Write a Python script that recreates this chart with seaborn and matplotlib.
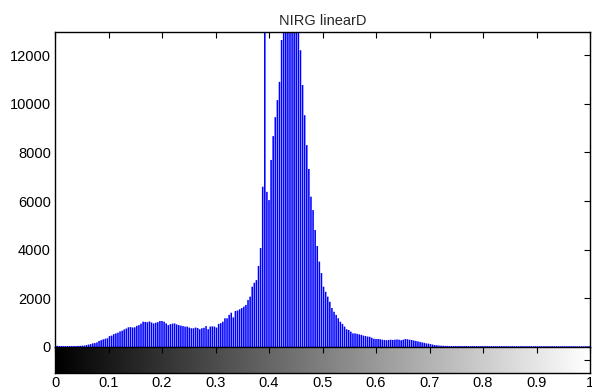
import numpy as np
import pandas as pd
import matplotlib
matplotlib.use("Agg")
import matplotlib.pyplot as plt
import seaborn as sn

# histogram counts, 256 bins over [0, 1]
counts = [
    45, 50, 40, 42, 38, 40, 36, 40, 38, 42, 40, 45, 48, 55, 60, 80,
    100, 120, 150, 160, 190, 250, 280, 315, 340, 360, 450, 470, 530, 560, 590, 640,
    670, 720, 760, 810, 820, 800, 810, 870, 900, 960, 1040, 1030, 1020, 1050, 1010, 970,
    1000, 1020, 1070, 1070, 1040, 970, 900, 940, 960, 970, 930, 900, 880, 860, 840, 840,
    800, 770, 770, 800, 780, 730, 770, 790, 860, 730, 840, 850, 840, 800, 950, 980,
    1040, 1180, 1180, 1320, 1410, 1220, 1480, 1500, 1550, 1600, 1660, 1730, 1930, 2070, 2480, 2640,
    2750, 3330, 4070, 6590, 21000, 6380, 6040, 7690, 8670, 9450, 10150, 10900, 12620, 14200, 16500, 18400,
    19600, 19200, 17600, 15800, 13700, 12200, 10770, 9530, 8300, 7320, 6180, 5630, 4810, 4150, 3510, 3040,
    2480, 2270, 2070, 1860, 1600, 1450, 1320, 1180, 1040, 950, 840, 730, 700, 630, 560, 560,
    540, 520, 500, 470, 450, 430, 420, 380, 340, 330, 330, 320, 300, 290, 280, 290,
    300, 290, 300, 310, 300, 280, 300, 330, 320, 300, 290, 270, 250, 230, 210, 190,
    170, 150, 140, 120, 100, 80, 70, 60, 55, 50, 45, 45, 40, 42, 40, 38,
    40, 38, 36, 38, 40, 36, 35, 38, 36, 35, 34, 36, 35, 33, 35, 34,
    33, 35, 34, 32, 33, 34, 32, 33, 31, 32, 33, 31, 30, 32, 31, 30,
    31, 30, 32, 30, 29, 31, 30, 29, 30, 28, 30, 29, 28, 30, 29, 28,
    29, 28, 30, 28, 27, 29, 28, 27, 28, 26, 28, 27, 26, 28, 27, 30,
]
levels = np.arange(256) / 255
yticks = [0, 2000, 4000, 6000, 8000, 10000, 12000]
xticks = [0, 0.1, 0.2, 0.3, 0.4, 0.5, 0.6, 0.7, 0.8, 0.9, 1]
xticklabels = ["0", "0.1", "0.2", "0.3", "0.4", "0.5", "0.6", "0.7", "0.8", "0.9", "1"]
title = "NIRG linearD"

df = pd.DataFrame({"level": levels, "count": counts})

sn.set_style("white")
plt.rcParams["font.family"] = ["Liberation Sans", "DejaVu Sans"]

fig = plt.figure(figsize=(5.92, 3.92), dpi=100)
ax = fig.add_axes([55 / 592, 45 / 392, 535 / 592, 315 / 392])
cax = fig.add_axes([55 / 592, 19 / 392, 535 / 592, 26 / 392])

sn.barplot(data=df, x="level", y="count", native_scale=True, width=0.75,
           color="blue", saturation=1, edgecolor="none", linewidth=0,
           errorbar=None, snap=False, ax=ax)
ax.axhline(0, color="blue", lw=1)

ax.set_xlim(0, 1)
ax.set_ylim(0, 12950)
ax.set_yticks(yticks)
ax.set_xticks(xticks)
ax.set_xticklabels([])
ax.set_xlabel("")
ax.set_ylabel("")
ax.tick_params(direction="in", length=4, width=0.8, top=True, right=True,
               bottom=False, labelsize=10.5, pad=3, colors="black")
for s in ax.spines.values():
    s.set_color("black")
    s.set_linewidth(1)
ax.spines["bottom"].set_visible(False)
ax.set_title(title, fontsize=10.5, pad=5)

# gray ramp under the histogram
cax.imshow(levels[None, :], cmap="gray", aspect="auto", extent=[0, 1, 0, 1],
           vmin=0, vmax=1)
cax.set_xlim(0, 1)
cax.set_ylim(0, 1)
cax.set_xticks(xticks)
cax.set_xticklabels(xticklabels)
cax.set_yticks([0.5])
cax.set_yticklabels([])
cax.tick_params(direction="in", length=4, width=0.8, top=True, right=True,
                labelsize=10.5, pad=2, colors="black")
for s in cax.spines.values():
    s.set_color("black")
    s.set_linewidth(1)

plt.savefig("out.png", dpi=100)
